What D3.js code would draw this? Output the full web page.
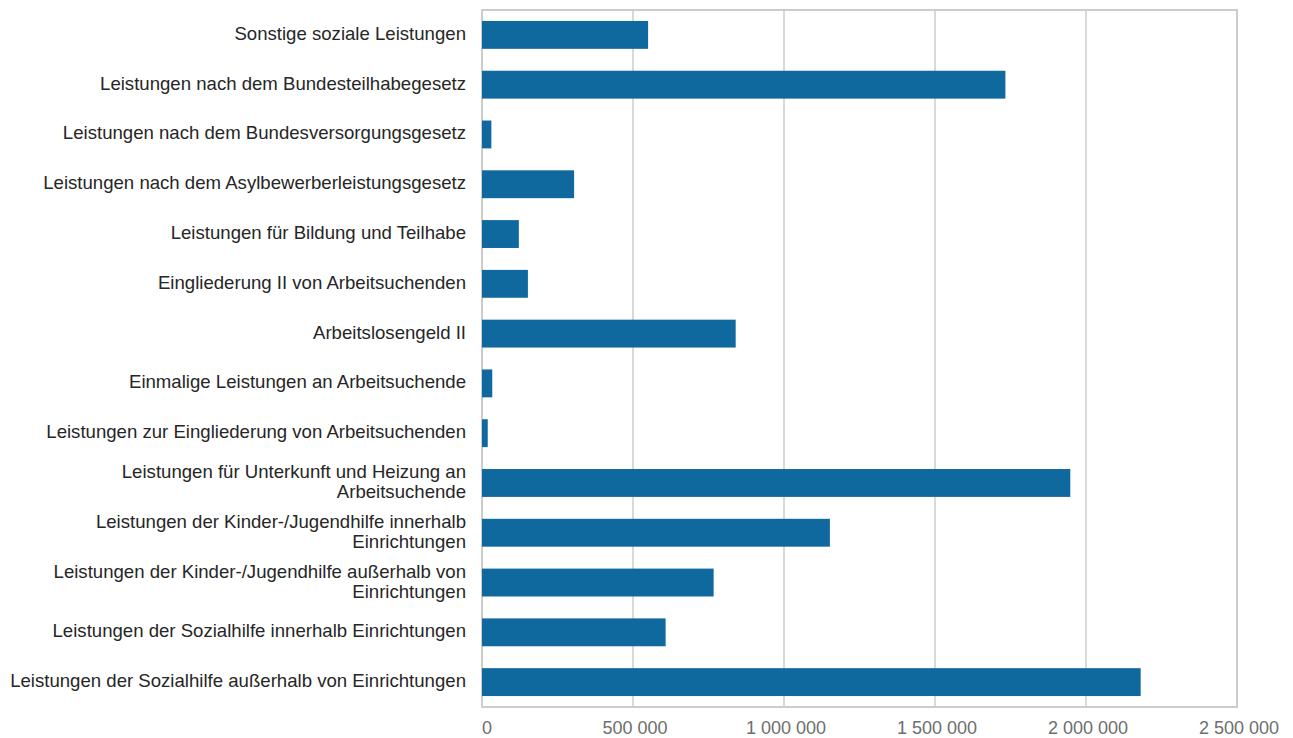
<!DOCTYPE html>
<html>
<head>
  <meta charset="utf-8">
  <title>Soziale Leistungen</title>
  <style>
    body { margin: 0; background: #fff; }
    svg { font-family: "Liberation Sans", Arial, sans-serif; }
    .ylab { font-size: 18.6px; fill: #262626; }
    .xlab { font-size: 18px; fill: #6e6e6e; }
    .grid { stroke: #cccccc; stroke-width: 1.5px; }
    .frame { fill: none; stroke: #cccccc; stroke-width: 2px; }
    .bar { fill: #10699e; }
  </style>
</head>
<body>
  <script src="https://d3js.org/d3.v7.min.js"></script>
  <svg width="1293" height="738"></svg>
  <script>
    // categories, top to bottom
    var categories = [
      "Sonstige soziale Leistungen",
      "Leistungen nach dem Bundesteilhabegesetz",
      "Leistungen nach dem Bundesversorgungsgesetz",
      "Leistungen nach dem Asylbewerberleistungsgesetz",
      "Leistungen für Bildung und Teilhabe",
      "Eingliederung II von Arbeitsuchenden",
      "Arbeitslosengeld II",
      "Einmalige Leistungen an Arbeitsuchende",
      "Leistungen zur Eingliederung von Arbeitsuchenden",
      "Leistungen für Unterkunft und Heizung an\nArbeitsuchende",
      "Leistungen der Kinder-/Jugendhilfe innerhalb\nEinrichtungen",
      "Leistungen der Kinder-/Jugendhilfe außerhalb von\nEinrichtungen",
      "Leistungen der Sozialhilfe innerhalb Einrichtungen",
      "Leistungen der Sozialhilfe außerhalb von Einrichtungen"
    ];

    var values = [
      550000, 1733000, 31000, 305000, 122000, 152000, 840000,
      34000, 19000, 1948000, 1152000, 767000, 608000, 2181000
    ];

    var xTicks = [0, 500000, 1000000, 1500000, 2000000, 2500000];

    var svg = d3.select("svg");
    var plotL = 482, plotR = 1237, plotT = 10, plotB = 707;

    var x = d3.scaleLinear().domain([0, 2500000]).range([plotL, plotR]);
    var y = d3.scaleBand().domain(categories).range([plotT, plotB])
        .paddingInner(0.44).paddingOuter(0.22);

    var fmt = function(v) {
      return d3.format(",")(v).replace(/,/g, " ");
    };

    // vertical grid lines
    svg.selectAll(".grid")
        .data(xTicks)
        .enter()
        .append("line")
        .attr("class", "grid")
        .attr("x1", function(d) { return x(d); })
        .attr("x2", function(d) { return x(d); })
        .attr("y1", plotT)
        .attr("y2", plotB);

    svg.append("rect")
        .attr("class", "frame")
        .attr("x", plotL)
        .attr("y", plotT)
        .attr("width", plotR - plotL)
        .attr("height", plotB - plotT);

    svg.selectAll(".bar")
        .data(values)
        .enter()
        .append("rect")
        .attr("class", "bar")
        .attr("x", x(0))
        .attr("y", function(d, i) { return y(categories[i]); })
        .attr("width", function(d) { return x(d) - x(0); })
        .attr("height", y.bandwidth());

    // x tick labels
    svg.selectAll(".xlab")
        .data(xTicks)
        .enter()
        .append("text")
        .attr("class", "xlab")
        .attr("x", function(d) { return d === 0 ? x(d) + 5 : x(d) + 2; })
        .attr("y", 734)
        .attr("text-anchor", "middle")
        .text(fmt);

    // y labels (some wrap onto two lines)
    var lab = svg.selectAll(".ylab")
        .data(categories)
        .enter()
        .append("text")
        .attr("class", "ylab")
        .attr("text-anchor", "end")
        .attr("transform", function(d) {
          return "translate(466," + (y(d) + y.bandwidth() / 2 - 1.5) + ")";
        });

    lab.each(function(d) {
      var lines = d.split("\n");
      var t = d3.select(this);
      var lh = 20;
      var start = -(lines.length - 1) * lh / 2;
      lines.forEach(function(s, k) {
        t.append("tspan")
            .attr("x", 0)
            .attr("y", start + k * lh)
            .attr("dy", "0.35em")
            .text(s);
      });
    });
  </script>
</body>
</html>
